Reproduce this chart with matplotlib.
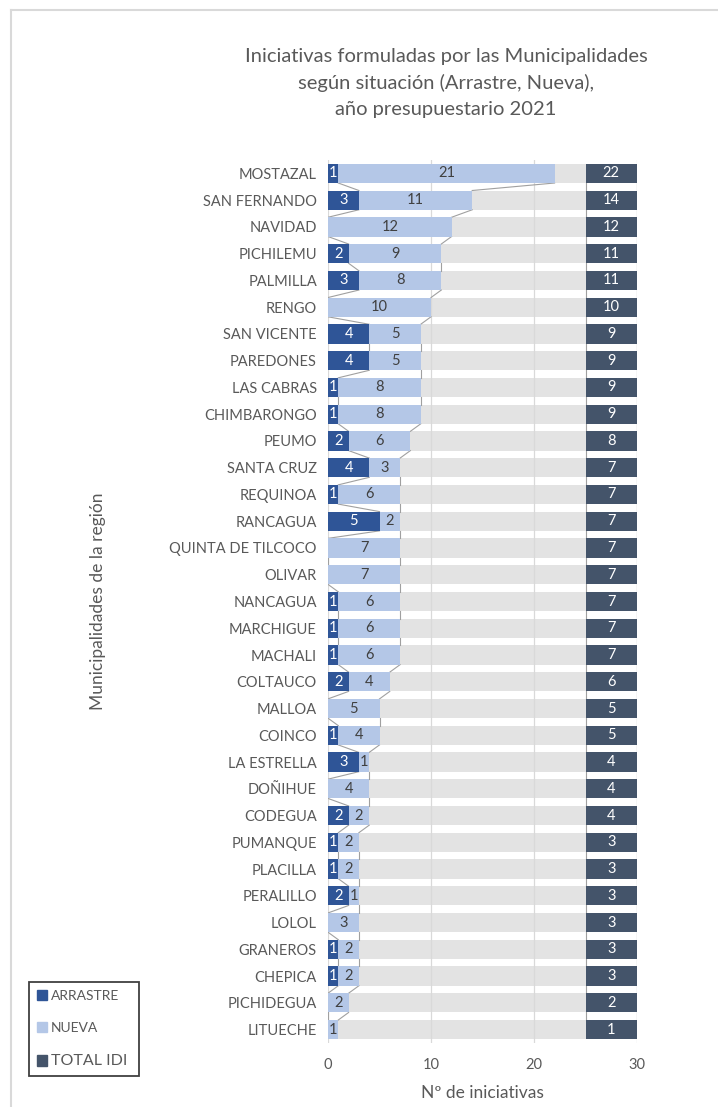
import matplotlib
matplotlib.use("Agg")
import matplotlib.pyplot as plt
from matplotlib.patches import Patch
from matplotlib.lines import Line2D
import numpy as np

plt.rcParams['font.family'] = ['Lato', 'DejaVu Sans']

municipios = ["MOSTAZAL", "SAN FERNANDO", "NAVIDAD", "PICHILEMU", "PALMILLA", "RENGO",
              "SAN VICENTE", "PAREDONES", "LAS CABRAS", "CHIMBARONGO", "PEUMO", "SANTA CRUZ",
              "REQUINOA", "RANCAGUA", "QUINTA DE TILCOCO", "OLIVAR", "NANCAGUA", "MARCHIGUE",
              "MACHALI", "COLTAUCO", "MALLOA", "COINCO", "LA ESTRELLA", "DOÑIHUE", "CODEGUA",
              "PUMANQUE", "PLACILLA", "PERALILLO", "LOLOL", "GRANEROS", "CHEPICA",
              "PICHIDEGUA", "LITUECHE"]
arrastre = [1, 3, 0, 2, 3, 0, 4, 4, 1, 1, 2, 4, 1, 5, 0, 0, 1, 1, 1, 2, 0, 1, 3, 0, 2,
            1, 1, 2, 0, 1, 1, 0, 0]
nueva = [21, 11, 12, 9, 8, 10, 5, 5, 8, 8, 6, 3, 6, 2, 7, 7, 6, 6, 6, 4, 5, 4, 1, 4, 2,
         2, 2, 1, 3, 2, 2, 2, 1]
total_idi = [22, 14, 12, 11, 11, 10, 9, 9, 9, 9, 8, 7, 7, 7, 7, 7, 7, 7, 7, 6, 5, 5, 4, 4, 4,
             3, 3, 3, 3, 3, 3, 2, 1]
x_ticks = [0, 10, 20, 30]

C_ARR = "#2F5597"
C_NUE = "#B4C7E7"
C_BG = "#E3E3E3"
C_TOT = "#44546A"
C_TXT = "#595959"
C_GRID = "#D9D9D9"

W, H = 718, 1107
fig = plt.figure(figsize=(W / 100, H / 100), dpi=100)
ax = fig.add_axes([328 / W, 1 - 1043 / H, 309 / W, 883 / H])

y = np.arange(len(municipios))
arr = np.array(arrastre)
nue = np.array(nueva)
tot = np.array(total_idi)
bh = 0.72
BG_END = 25
TOT_W = 5

# grey background bars
ax.barh(y, BG_END, height=bh, color=C_BG, zorder=1)
for xv in x_ticks:
    ax.axvline(xv, color=C_GRID, lw=0.9, zorder=1.5)
ax.barh(y, arr, height=bh, color=C_ARR, zorder=3)
ax.barh(y, nue, left=arr, height=bh, color=C_NUE, zorder=3)
ax.barh(y, TOT_W, left=BG_END, height=bh, color=C_TOT, zorder=3)

# series lines
ends = [arr, arr + nue, np.full_like(arr, BG_END), np.full_like(arr, BG_END + TOT_W)]
for c in ends:
    for i in range(len(y) - 1):
        ax.plot([c[i], c[i + 1]], [y[i] + bh / 2, y[i + 1] - bh / 2],
                color="#A0A0A0", lw=0.8, zorder=2.5)

# data labels
for i in range(len(y)):
    if arr[i] > 0:
        ax.text(arr[i] / 2, y[i], str(arr[i]), ha="center", va="center",
                color="white", fontsize=10.5, zorder=4)
    if nue[i] > 0:
        ax.text(arr[i] + nue[i] / 2, y[i], str(nue[i]), ha="center", va="center",
                color="#404040", fontsize=10.5, zorder=4)
    ax.text(BG_END + TOT_W / 2, y[i], str(tot[i]), ha="center", va="center",
            color="white", fontsize=10.5, zorder=4)

ax.set_xlim(0, 30)
ax.set_ylim(len(y) - 0.5, -0.5)
ax.set_yticks(y)
ax.set_yticklabels(municipios, fontsize=10.5, color=C_TXT)
ax.set_xticks(x_ticks)
ax.set_xticklabels([str(v) for v in x_ticks], fontsize=10.5, color=C_TXT)
ax.tick_params(axis="y", length=0, pad=8)
ax.tick_params(axis="x", length=0, pad=11)
for s in ax.spines.values():
    s.set_visible(False)
ax.set_xlabel("Nº de iniciativas", fontsize=12.5, color=C_TXT, labelpad=9)

fig.text(98 / W, 1 - 601 / H, "Municipalidades de la región", rotation=90,
         ha="center", va="center", fontsize=12.5, color=C_TXT)

fig.text(446 / W, 1 - 83 / H,
         "Iniciativas formuladas por las Municipalidades\nsegún situación (Arrastre, Nueva),\naño presupuestario 2021",
         ha="center", va="center", fontsize=14.5, color=C_TXT, linespacing=1.62)

# chart border (top and left visible)
fig.add_artist(Line2D([11 / W, 11 / W], [0, 1 - 10 / H], color=C_GRID, lw=1.5,
                      transform=fig.transFigure))
fig.add_artist(Line2D([11 / W, 1], [1 - 10 / H, 1 - 10 / H], color=C_GRID, lw=1.5,
                      transform=fig.transFigure))

handles = [Patch(color=C_ARR), Patch(color=C_NUE), Patch(color=C_TOT)]
leg = fig.legend(handles, ["ARRASTRE", "NUEVA", "TOTAL IDI"],
                 loc="lower left",
                 bbox_to_anchor=(29 / W, 1 - 1076 / H, 110 / W, 105 / H),
                 mode="expand", borderaxespad=0, fontsize=10,
                 handlelength=0.75, handleheight=0.75, handletextpad=0.3,
                 labelspacing=1.45, borderpad=0.55, fancybox=False, framealpha=1)
leg.get_frame().set_edgecolor("#404040")
leg.get_frame().set_linewidth(1.3)
for t in leg.get_texts():
    t.set_color(C_TXT)
leg.get_texts()[2].set_fontsize(11.5)

fig.savefig("out.png", dpi=100)
